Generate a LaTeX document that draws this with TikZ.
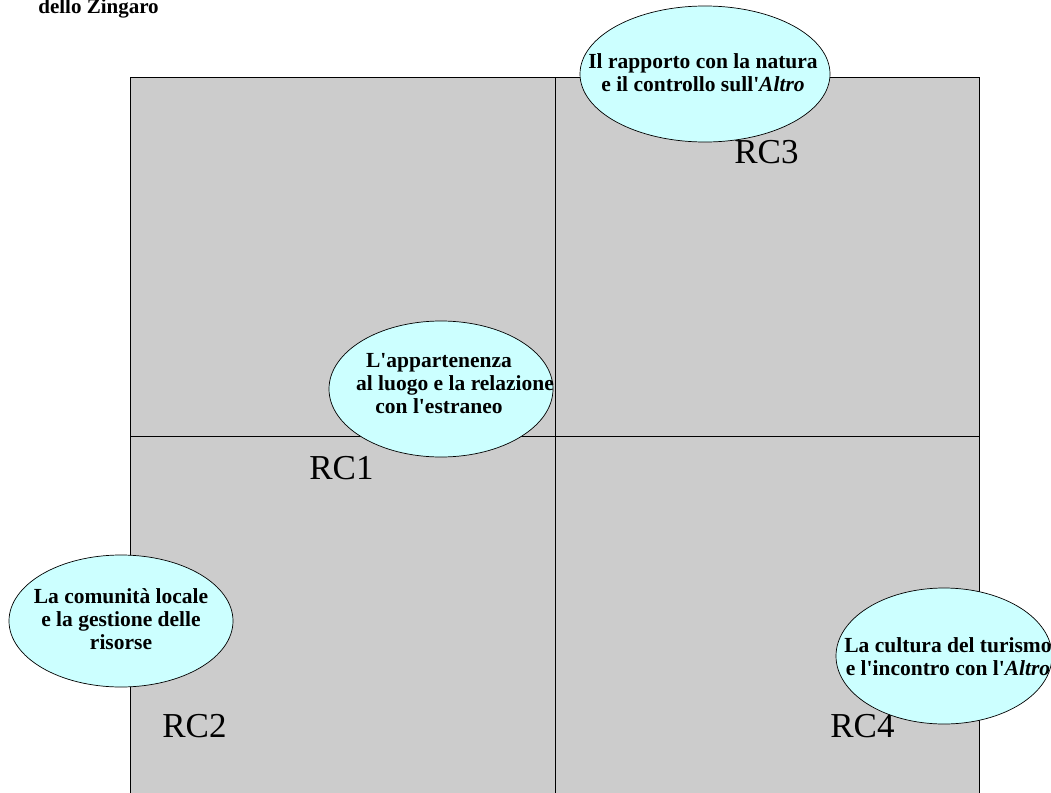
\documentclass[tikz,border=0pt]{standalone}
\usepackage{fontspec}
\setmainfont{Liberation Serif}[Ligatures=TeXOff]
\usetikzlibrary{shapes.geometric}

\definecolor{quadgray}{HTML}{CCCCCC}
\definecolor{topiccyan}{HTML}{CCFFFF}

\tikzset{
    topic/.style={ellipse, draw=black, fill=topiccyan, inner sep=0pt},
    topictext/.style={align=center, inner sep=0pt, font=\fontsize{21.5}{23}\selectfont\bfseries},
    rclabel/.style={anchor=base west, inner sep=0pt, font=\fontsize{35}{40}\selectfont},
}

\begin{document}
\begin{tikzpicture}[x=1pt, y=-1pt, line width=0.7pt]
    \useasboundingbox (0, 0) rectangle (1051, 792);
    \clip (0, 0) rectangle (1051, 792);

    \node [anchor=base west, inner sep=0pt, font=\fontsize{21}{25}\selectfont\bfseries] (title) at (38, 14) {dello Zingaro};

    \filldraw [fill=quadgray, draw=black] (130, 77) rectangle (979, 800);
    \draw (555, 77) -- (555, 800);
    \draw (130, 436) -- (979, 436);

    \foreach \name/\x/\y in {RC1/309/479, RC2/162/737, RC3/734/163, RC4/830/737} {
        \node [rclabel] (\name) at (\x, \y) {\name};
        }

    \node [topic, minimum width=250pt, minimum height=136pt] (nature) at (705, 74) {};
    \node [topictext] (nature text) at (703, 73) {Il rapporto con la natura\\e il controllo sull'\textit{Altro}};

    \node [topic, minimum width=224pt, minimum height=136pt] (belonging) at (441, 389) {};
    \node [topictext] (belonging text) at (439, 384) {L'appartenenza\\\hspace*{32pt}al luogo e la relazione\\con l'estraneo};

    \node [topic, minimum width=224pt, minimum height=132pt] (community) at (121, 621) {};
    \node [topictext] (community text) at (121, 619) {La comunità locale\\e la gestione delle\\risorse};

    \node [topic, minimum width=216pt, minimum height=136pt] (tourism) at (944, 656) {};
    \node [topictext] (tourism text) at (948, 657) {La cultura del turismo\\e l'incontro con l'\textit{Altro}};
\end{tikzpicture}
\end{document}
